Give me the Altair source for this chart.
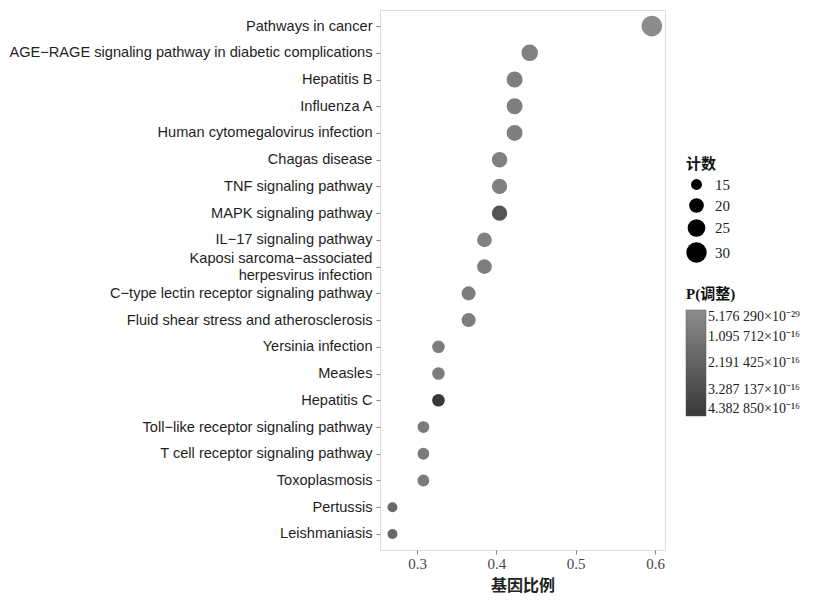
import altair as alt
import pandas as pd

pathways = [
    "Pathways in cancer",
    "AGE\u2212RAGE signaling pathway in diabetic complications",
    "Hepatitis B",
    "Influenza A",
    "Human cytomegalovirus infection",
    "Chagas disease",
    "TNF signaling pathway",
    "MAPK signaling pathway",
    "IL\u221217 signaling pathway",
    "Kaposi sarcoma\u2212associated\nherpesvirus infection",
    "C\u2212type lectin receptor signaling pathway",
    "Fluid shear stress and atherosclerosis",
    "Yersinia infection",
    "Measles",
    "Hepatitis C",
    "Toll\u2212like receptor signaling pathway",
    "T cell receptor signaling pathway",
    "Toxoplasmosis",
    "Pertussis",
    "Leishmaniasis",
]
gene_ratio = [0.596, 0.442, 0.423, 0.423, 0.423, 0.404, 0.404, 0.404, 0.385, 0.385,
              0.365, 0.365, 0.327, 0.327, 0.327, 0.308, 0.308, 0.308, 0.269, 0.269]
counts = [31, 23, 22, 22, 22, 21, 21, 21, 20, 20, 19, 19, 17, 17, 17, 16, 16, 16, 14, 14]
p_adjust = [5.17629e-29, 6.0e-17, 7.0e-17, 7.0e-17, 7.0e-17, 6.5e-17, 6.5e-17, 2.9e-16,
            6.0e-17, 7.5e-17, 8.0e-17, 8.0e-17, 8.0e-17, 8.0e-17, 4.38285e-16, 9.0e-17,
            9.0e-17, 9.0e-17, 1.9e-16, 1.9e-16]

legend_p_values = [5.17629e-29, 1.095712e-16, 2.191425e-16, 3.287137e-16, 4.38285e-16]
legend_p_labels = [
    "5.176 290\u00d710\u207b\u00b2\u2079",
    "1.095 712\u00d710\u207b\u00b9\u2076",
    "2.191 425\u00d710\u207b\u00b9\u2076",
    "3.287 137\u00d710\u207b\u00b9\u2076",
    "4.382 850\u00d710\u207b\u00b9\u2076",
]
size_legend_values = [15, 20, 25, 30]

df = pd.DataFrame({"pathway": pathways, "ratio": gene_ratio,
                   "count": counts, "padj": p_adjust})

# label expression for the color legend (field is -padj so min sits at top)
neg_vals = [-v for v in legend_p_values]
expr = "'" + legend_p_labels[-1] + "'"
for i in range(len(neg_vals) - 2, -1, -1):
    thr = (neg_vals[i] + neg_vals[i + 1]) / 2
    expr = f"datum.value > {thr} ? '{legend_p_labels[i]}' : ({expr})"

serif = "Liberation Serif"
cjk = "Noto Sans CJK SC"

chart = alt.Chart(df).transform_calculate(
    negp="-datum.padj"
).mark_circle(opacity=1).encode(
    x=alt.X("ratio:Q",
            scale=alt.Scale(domain=[0.2533, 0.6126], nice=False, zero=False),
            axis=alt.Axis(title="基因比例", values=[0.3, 0.4, 0.5, 0.6], format=".1f",
                          grid=False, domain=False, tickColor="#888888", tickSize=4,
                          labelFont=serif, labelFontSize=15, labelColor="#444444",
                          labelPadding=2, titleFont=cjk, titleFontSize=16,
                          titleFontWeight="bold", titleColor="#222222", titlePadding=6)),
    y=alt.Y("pathway:N", sort=pathways,
            scale=alt.Scale(padding=0.6),
            axis=alt.Axis(title=None, grid=False, domain=False, tickColor="#888888",
                          tickSize=4, labelFont="Liberation Sans", labelFontSize=14.6,
                          labelColor="#1e1e1e", labelPadding=4, labelLimit=500,
                          labelLineHeight=17,
                          labelOffset={"condition": {"test": "indexof(datum.value, 'Kaposi') === 0",
                                                     "value": -8},
                                       "value": 0},
                          labelExpr="split(datum.label, '\\n')")),
    size=alt.Size("count:Q",
                  scale=alt.Scale(domain=[14, 31], range=[100, 430]),
                  legend=alt.Legend(title="计数", values=size_legend_values,
                                    orient="none", legendX=306, legendY=147,
                                    symbolFillColor="black", symbolStrokeColor="black",
                                    symbolStrokeWidth=0, symbolType="circle",
                                    titleFont=cjk, titleFontSize=15, titleFontWeight="bold",
                                    titleColor="#111111", labelFont=serif,
                                    labelFontSize=15, labelColor="#222222",
                                    rowPadding=5, labelOffset=8)),
    color=alt.Color("negp:Q",
                    scale=alt.Scale(domain=[neg_vals[-1], neg_vals[0]],
                                    range=["#383838", "#8c8c8c"], interpolate="rgb"),
                    legend=alt.Legend(title="P(调整)", values=neg_vals, labelExpr=expr,
                                      orient="none", legendX=306, legendY=277,
                                      direction="vertical", gradientLength=106,
                                      gradientThickness=20, gradientStrokeColor="#555555",
                                      gradientStrokeWidth=0.5, labelOverlap=False,
                                      labelBaseline="middle", labelFont=serif,
                                      labelFontSize=14, labelColor="#222222",
                                      labelOffset=2, titlePadding=8,
                                      titleFont=f"{serif}, {cjk}", titleFontSize=15,
                                      titleFontWeight="bold", titleColor="#111111")),
).properties(
    width=285, height=540,
    padding={"left": 0, "top": 2, "right": 0, "bottom": 4},
).configure_view(
    stroke="#aaaaaa", strokeWidth=1
).configure(background="white")

chart.save("out.html", embed_options={"renderer": "svg", "actions": False})
